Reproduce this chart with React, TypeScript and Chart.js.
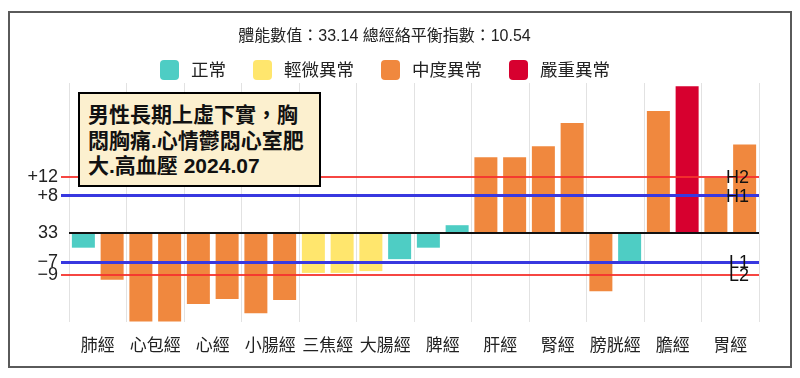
import React, { useEffect, useRef } from 'react';
import { Chart, registerables } from 'chart.js';

Chart.register(...registerables);

const FONT = "'Liberation Sans', 'Noto Sans CJK TC', sans-serif";

const TITLE = '體能數值：33.14 總經絡平衡指數：10.54';
const CATEGORIES = ['肺經', '心包經', '心經', '小腸經', '三焦經', '大腸經', '脾經', '肝經', '腎經', '膀胱經', '膽經', '胃經'];
const LEFT_VALUES = [-3.2, -19.3, -15.5, -17.5, -8.7, -8.3, -3.2, 16.5, 18.9, -12.7, 26.6, 12.0];
const RIGHT_VALUES = [-10.2, -19.3, -14.4, -14.6, -8.7, -5.7, 1.7, 16.5, 24.0, -6.2, 32.0, 19.3];
// 0 正常, 1 輕微異常, 2 中度異常, 3 嚴重異常
const LEFT_STATUS = [0, 2, 2, 2, 1, 1, 0, 2, 2, 2, 2, 2];
const RIGHT_STATUS = [2, 2, 2, 2, 1, 0, 0, 2, 2, 0, 3, 2];
const STATUS_LABELS = ['正常', '輕微異常', '中度異常', '嚴重異常'];
const STATUS_COLORS = ['#4ECDC4', '#FFE66D', '#F0883E', '#D7002F'];

const THRESHOLD_VALUES = [12.1, 8.1, -6.4, -9.1];
const THRESHOLD_NAMES = ['H2', 'H1', 'L1', 'L2'];

const Y_TICK_VALUES = [-9.1, -6.4, 0, 8.1, 12.1];
const Y_TICK_LABELS = ['−9', '−7', '33', '+8', '+12'];
const Y_MIN = -19.4;
const Y_MAX = 32.7;

const NOTE_LINES = ['男性長期上虛下實，胸', '悶胸痛.心情鬱悶心室肥', '大.高血壓 2024.07'];

const RED = 'rgba(245,50,45,0.9)';
const BLUE = '#3838E0';
const LINE_COLORS = [RED, BLUE, '#111111', BLUE, RED];
const LINE_WIDTHS = [2, 3, 2, 3, 2];
const TICK_COLORS = [RED, BLUE, 'rgba(0,0,0,0)', BLUE, RED];

const legendPlugin = {
  id: 'customLegend',
  afterDraw(chart: any) {
    const ctx = chart.ctx as CanvasRenderingContext2D;
    ctx.save();
    ctx.font = `17.5px ${FONT}`;
    const box = 19;
    const boxH = 20;
    const gap = 12;
    const sep = 27;
    const widths = STATUS_LABELS.map((l) => ctx.measureText(l).width);
    const total = widths.reduce((a, w) => a + box + gap + w, 0) + sep * (STATUS_LABELS.length - 1);
    let x = 375 - total / 2;
    const cy = 57;
    ctx.textBaseline = 'middle';
    ctx.textAlign = 'left';
    STATUS_LABELS.forEach((label, i) => {
      ctx.fillStyle = STATUS_COLORS[i];
      ctx.beginPath();
      (ctx as any).roundRect(x, cy - boxH / 2, box, boxH, 4);
      ctx.fill();
      ctx.fillStyle = '#222';
      ctx.fillText(label, x + box + gap, cy + 1);
      x += box + gap + widths[i] + sep;
    });
    ctx.restore();
  },
};

const thresholdLabelPlugin = {
  id: 'thresholdLabels',
  afterDraw(chart: any) {
    const ctx = chart.ctx as CanvasRenderingContext2D;
    const yScale = chart.scales.y;
    const right = chart.chartArea.right - 10;
    ctx.save();
    ctx.font = `18px ${FONT}`;
    ctx.fillStyle = '#111';
    ctx.textAlign = 'right';
    ctx.textBaseline = 'middle';
    THRESHOLD_VALUES.forEach((v, i) => {
      ctx.fillText(THRESHOLD_NAMES[i], right, yScale.getPixelForValue(v) + 1);
    });
    ctx.restore();
  },
};

export default function App() {
  const canvasRef = useRef<HTMLCanvasElement | null>(null);

  useEffect(() => {
    if (!canvasRef.current) return;
    const chart = new Chart(canvasRef.current, {
      type: 'bar',
      data: {
        labels: CATEGORIES,
        datasets: [
          {
            label: 'left',
            data: LEFT_VALUES,
            backgroundColor: LEFT_STATUS.map((s) => STATUS_COLORS[s]),
            borderWidth: 0,
            categoryPercentage: 1.0,
            barPercentage: 0.8,
          },
          {
            label: 'right',
            data: RIGHT_VALUES,
            backgroundColor: RIGHT_STATUS.map((s) => STATUS_COLORS[s]),
            borderWidth: 0,
            categoryPercentage: 1.0,
            barPercentage: 0.8,
          },
        ],
      },
      options: {
        responsive: false,
        animation: false,
        events: [],
        layout: { padding: { left: 0, right: 31, top: 0, bottom: 11 } },
        plugins: {
          legend: { display: false },
          tooltip: { enabled: false },
          title: {
            display: true,
            text: TITLE,
            color: '#222',
            font: { family: FONT, size: 16, weight: 'normal' },
            padding: { top: 14.4, bottom: 36.4 },
          },
        },
        scales: {
          x: {
            afterFit: (scale: any) => {
              scale.height = 33;
            },
            grid: { color: '#e2e2e2', lineWidth: 1, drawTicks: false, offset: true },
            border: { display: false },
            ticks: {
              color: '#222',
              font: { family: FONT, size: 17 },
              padding: 14,
              maxRotation: 0,
              autoSkip: false,
            },
          },
          y: {
            min: Y_MIN,
            max: Y_MAX,
            afterBuildTicks: (axis: any) => {
              axis.ticks = Y_TICK_VALUES.map((v) => ({ value: v }));
            },
            afterFit: (scale: any) => {
              scale.width = 59;
            },
            grid: {
              z: 1,
              color: (c: any) => LINE_COLORS[c.index] ?? 'transparent',
              lineWidth: (c: any) => LINE_WIDTHS[c.index] ?? 1,
              tickColor: (c: any) => TICK_COLORS[c.index] ?? 'transparent',
              tickLength: 8,
            },
            border: { display: false },
            ticks: {
              autoSkip: false,
              color: '#222',
              font: { family: FONT, size: 18 },
              padding: 3,
              callback: (_v: any, i: number) => Y_TICK_LABELS[i],
            },
          },
        },
      },
      plugins: [legendPlugin, thresholdLabelPlugin],
    } as any);
    return () => chart.destroy();
  }, []);

  return (
    <div style={{ paddingTop: 3 }}>
      <div
        style={{
          position: 'relative',
          width: 780,
          height: 353,
          border: '2px solid #5a5a5a',
          background: '#fff',
        }}
      >
        <canvas ref={canvasRef} width={780} height={353} style={{ display: 'block' }} />
        <div
          style={{
            position: 'absolute',
            left: 68,
            top: 79,
            width: 243,
            height: 95,
            boxSizing: 'border-box',
            border: '2px solid #000',
            background: '#FCF0CF',
            padding: '8px 0 0 8px',
            fontFamily: FONT,
            fontWeight: 'bold',
            fontSize: 21,
            lineHeight: '25.5px',
            color: '#111',
            whiteSpace: 'nowrap',
          }}
        >
          {NOTE_LINES.map((line, i) => (
            <div key={i}>{line}</div>
          ))}
        </div>
      </div>
    </div>
  );
}
